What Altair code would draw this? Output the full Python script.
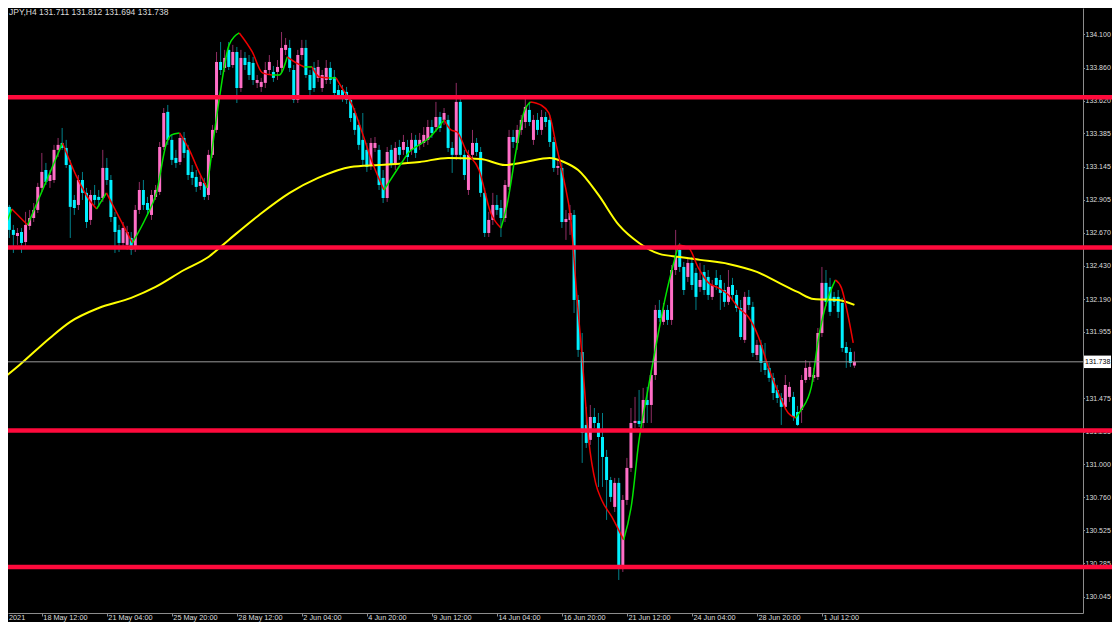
import json
import altair as alt
import pandas as pd

# ---------------- data (EURJPY H4) ----------------
opens = [132.746, 132.819, 132.855, 132.689, 132.645, 132.674, 132.602, 132.718, 132.775, 132.833,
         132.992, 133.121, 133.042, 133.049, 133.266, 133.316, 133.280, 133.157, 132.905, 132.869,
         133.049, 132.956, 132.761, 132.941, 132.927, 132.919, 133.136, 133.049, 132.782, 132.689,
         132.595, 132.581, 132.631, 132.559, 132.833, 132.977, 132.883, 132.797, 132.927, 132.963,
         133.287, 133.540, 133.338, 133.208, 133.179, 133.352, 133.266, 133.107, 133.071, 133.006,
         133.028, 132.941, 133.230, 133.410, 133.900, 133.857, 133.987, 133.878, 133.972, 133.712,
         133.929, 133.900, 133.893, 133.749, 133.720, 133.749, 133.842, 133.828, 133.828, 133.857,
         133.987, 134.001, 133.842, 133.626, 133.950, 134.001, 133.806, 133.857, 133.785, 133.712,
         133.770, 133.857, 133.792, 133.698, 133.698, 133.684, 133.626, 133.532, 133.446, 133.338,
         133.266, 133.157, 133.280, 133.266, 133.064, 132.919, 133.266, 133.157, 133.287, 133.266,
         133.287, 133.266, 133.338, 133.302, 133.316, 133.338, 133.431, 133.431, 133.503, 133.482,
         133.482, 133.280, 133.230, 133.612, 133.230, 132.977, 133.230, 133.316, 133.251, 132.956,
         132.667, 132.761, 132.869, 132.847, 132.775, 132.999, 133.359, 133.316, 133.410, 133.467,
         133.554, 133.338, 133.482, 133.410, 133.503, 133.482, 133.323, 133.136, 133.136, 132.746,
         132.761, 132.797, 132.184, 131.809, 131.283, 131.175, 131.340, 131.297, 131.196, 131.052,
         130.886, 130.692, 130.865, 130.273, 130.742, 130.973, 131.297, 131.312, 131.297, 131.463,
         131.427, 131.643, 132.112, 132.026, 132.112, 132.040, 132.400, 132.545, 132.422, 132.350,
         132.451, 132.379, 132.278, 132.386, 132.350, 132.206, 132.343, 132.328, 132.256, 132.170,
         132.292, 132.220, 132.126, 131.896, 132.206, 132.134, 131.787, 131.860, 131.730, 131.694,
         131.622, 131.535, 131.477, 131.413, 131.485, 131.485, 131.376, 131.391, 131.607, 131.629,
         131.622, 131.629, 131.946, 132.307, 132.278, 132.206, 132.206, 132.162, 131.845, 131.809,
         131.711]
highs = [132.905, 132.941, 132.869, 132.725, 132.703, 132.703, 132.819, 132.833, 132.883, 133.028,
         133.244, 133.172, 133.121, 133.302, 133.352, 133.424, 133.338, 133.194, 132.941, 133.085,
         133.107, 132.992, 132.977, 133.013, 132.977, 133.266, 133.208, 133.085, 132.819, 132.725,
         132.746, 132.718, 132.674, 132.869, 133.035, 133.049, 132.927, 132.977, 133.013, 133.323,
         133.568, 133.590, 133.374, 133.266, 133.388, 133.395, 133.302, 133.157, 133.121, 133.078,
         133.064, 133.266, 133.446, 133.972, 134.044, 133.987, 134.044, 134.023, 134.008, 133.987,
         133.972, 133.950, 133.936, 133.806, 133.785, 133.900, 133.950, 133.871, 133.914, 134.116,
         134.073, 134.059, 133.878, 133.987, 134.059, 134.059, 133.842, 133.900, 133.914, 133.842,
         133.914, 133.900, 133.842, 133.734, 133.734, 133.720, 133.662, 133.568, 133.482, 133.532,
         133.316, 133.352, 133.359, 133.302, 133.121, 133.287, 133.302, 133.323, 133.338, 133.374,
         133.338, 133.388, 133.374, 133.388, 133.431, 133.482, 133.482, 133.612, 133.540, 133.568,
         133.518, 133.323, 133.749, 133.640, 133.266, 133.266, 133.410, 133.352, 133.287, 132.992,
         132.819, 132.956, 132.941, 132.905, 133.049, 133.410, 133.410, 133.446, 133.518, 133.662,
         133.612, 133.518, 133.532, 133.554, 133.540, 133.518, 133.359, 133.194, 133.172, 132.833,
         132.869, 132.833, 132.220, 131.946, 131.413, 131.427, 131.405, 131.369, 131.369, 131.103,
         130.908, 130.901, 130.901, 130.778, 131.045, 131.405, 131.485, 131.535, 131.550, 131.557,
         131.679, 132.148, 132.184, 132.162, 132.148, 132.436, 132.689, 132.595, 132.458, 132.487,
         132.494, 132.415, 132.451, 132.436, 132.400, 132.328, 132.400, 132.364, 132.307, 132.400,
         132.343, 132.256, 132.184, 132.242, 132.256, 132.170, 131.896, 131.896, 131.874, 131.730,
         131.658, 131.571, 131.513, 131.643, 131.593, 131.521, 131.420, 131.643, 131.751, 131.737,
         131.694, 131.982, 132.422, 132.400, 132.343, 132.242, 132.256, 132.199, 131.881, 131.838,
         131.812]
lows = [132.703, 132.804, 132.631, 132.523, 132.581, 132.523, 132.566, 132.689, 132.746, 132.811,
        132.963, 133.013, 132.992, 133.028, 133.215, 133.266, 133.136, 132.631, 132.797, 132.833,
        132.905, 132.703, 132.725, 132.869, 132.855, 132.891, 133.013, 132.746, 132.523, 132.530,
        132.566, 132.545, 132.509, 132.530, 132.804, 132.833, 132.797, 132.761, 132.905, 132.941,
        133.266, 133.302, 133.157, 133.136, 133.157, 133.208, 133.049, 133.013, 132.963, 132.977,
        132.905, 132.905, 133.208, 133.388, 133.806, 133.828, 133.842, 133.857, 133.604, 133.684,
        133.842, 133.770, 133.734, 133.712, 133.684, 133.712, 133.806, 133.756, 133.770, 133.828,
        133.950, 133.828, 133.604, 133.604, 133.914, 133.785, 133.662, 133.684, 133.756, 133.684,
        133.741, 133.741, 133.648, 133.640, 133.612, 133.597, 133.467, 133.374, 133.266, 133.157,
        133.107, 133.121, 133.251, 132.977, 132.883, 132.891, 133.136, 133.121, 133.194, 133.230,
        133.179, 133.230, 133.208, 133.266, 133.287, 133.302, 133.352, 133.395, 133.395, 133.446,
        133.251, 133.100, 133.194, 133.194, 133.049, 132.941, 133.194, 133.222, 132.927, 132.638,
        132.638, 132.725, 132.797, 132.638, 132.746, 132.977, 133.280, 133.266, 133.374, 133.424,
        133.438, 133.302, 133.374, 133.374, 133.431, 133.287, 133.107, 133.085, 132.703, 132.617,
        132.653, 132.090, 131.773, 131.009, 131.117, 131.139, 131.261, 130.836, 130.836, 130.598,
        130.728, 130.655, 130.165, 130.223, 130.706, 130.944, 131.261, 131.268, 131.261, 131.297,
        131.297, 131.607, 132.026, 132.004, 132.004, 132.004, 132.364, 132.386, 132.220, 132.314,
        132.256, 132.112, 132.242, 132.220, 132.184, 132.184, 132.256, 132.112, 132.134, 132.148,
        132.184, 132.098, 131.896, 131.874, 132.112, 131.773, 131.751, 131.665, 131.643, 131.593,
        131.463, 131.441, 131.283, 131.391, 131.449, 131.312, 131.276, 131.297, 131.586, 131.607,
        131.593, 131.607, 131.917, 132.141, 132.069, 132.141, 132.054, 131.809, 131.694, 131.701,
        131.694]
closes = [132.819, 132.869, 132.689, 132.653, 132.667, 132.595, 132.725, 132.775, 132.833, 132.999,
          133.107, 133.035, 133.085, 133.266, 133.302, 133.280, 133.157, 132.855, 132.847, 133.049,
          132.956, 132.746, 132.941, 132.905, 132.905, 133.136, 133.049, 132.782, 132.674, 132.595,
          132.703, 132.674, 132.545, 132.833, 132.977, 132.869, 132.833, 132.941, 132.977, 133.287,
          133.532, 133.338, 133.194, 133.172, 133.352, 133.244, 133.085, 133.064, 132.999, 133.035,
          132.927, 133.230, 133.410, 133.900, 133.842, 133.929, 133.864, 133.972, 133.712, 133.929,
          133.878, 133.806, 133.770, 133.770, 133.756, 133.842, 133.900, 133.785, 133.864, 134.001,
          134.023, 133.857, 133.626, 133.950, 134.001, 133.806, 133.698, 133.712, 133.864, 133.806,
          133.857, 133.770, 133.676, 133.662, 133.648, 133.626, 133.496, 133.410, 133.302, 133.194,
          133.143, 133.316, 133.316, 133.013, 132.919, 133.251, 133.157, 133.280, 133.230, 133.323,
          133.215, 133.338, 133.244, 133.338, 133.374, 133.431, 133.388, 133.503, 133.424, 133.532,
          133.280, 133.230, 133.612, 133.230, 133.085, 133.230, 133.316, 133.251, 132.956, 132.667,
          132.761, 132.869, 132.833, 132.775, 133.013, 133.359, 133.323, 133.410, 133.482, 133.576,
          133.467, 133.482, 133.410, 133.503, 133.467, 133.323, 133.136, 133.150, 132.746, 132.768,
          132.811, 132.184, 131.824, 131.225, 131.153, 131.340, 131.297, 131.196, 131.052, 130.886,
          130.764, 130.865, 130.273, 130.742, 130.973, 131.297, 131.312, 131.290, 131.463, 131.427,
          131.643, 132.112, 132.054, 132.112, 132.040, 132.400, 132.494, 132.422, 132.256, 132.451,
          132.292, 132.206, 132.328, 132.256, 132.220, 132.292, 132.292, 132.235, 132.170, 132.278,
          132.220, 132.126, 131.917, 132.206, 132.148, 131.802, 131.860, 131.730, 131.679, 131.622,
          131.513, 131.477, 131.413, 131.571, 131.557, 131.340, 131.283, 131.607, 131.694, 131.701,
          131.643, 131.946, 132.307, 132.170, 132.098, 132.170, 132.098, 131.838, 131.802, 131.730,
          131.738]

# slow moving average (yellow), sampled along the drawn line: bar index -> price
ma_idx = [0, 4.5, 12, 17, 24, 32, 38, 45, 51, 56, 63.5, 71, 78, 86, 93, 103, 110, 118, 124,
          129, 135, 138.5, 142, 147, 152, 157, 162, 167, 172, 179, 186, 191, 196, 200, 206, 210]
ma_val = [131.607, 131.715, 131.910, 132.026, 132.126, 132.199, 132.278, 132.400, 132.494,
          132.617, 132.797, 132.956, 133.064, 133.143, 133.157, 133.179, 133.208, 133.201,
          133.157, 133.179, 133.208, 133.179, 133.121, 132.941, 132.725, 132.595, 132.516,
          132.494, 132.473, 132.444, 132.386, 132.314, 132.242, 132.191, 132.184, 132.148]

# fast smoothed average (green rising / red falling): bar index -> price
hma_idx = [0, 2.6, 6.5, 15.1, 18.6, 21.7, 23.5, 25.9, 32.3, 35.7, 38.2, 40.7, 41.9, 43.9, 46.3,
           48.8, 50.7, 53.7, 56.1, 58.6, 61.8, 64.3, 66.7, 68.4, 70.4, 72.6, 74.6, 76.5, 78.3,
           80.7, 82.4, 83.9, 86.4, 88.8, 91.3, 94.2, 98.7, 100.4, 102.1, 105.3, 109.0, 110.7,
           112.2, 114.6, 117.6, 120.5, 123.0, 124.4, 126.9, 128.6, 130.3, 132.8, 134.8, 136.7,
           138.5, 140.2, 141.7, 142.9, 144.6, 146.3, 147.8, 150.3, 153.2, 155.2, 156.9, 159.3,
           161.1, 163.5, 166.7, 169.2, 171.6, 174.1, 176.5, 179.0, 181.5, 183.9, 186.4, 188.8,
           191.3, 193.7, 195.5, 196.9, 199.4, 201.1, 203.1, 205.3, 206.8, 208.5, 209.7]
hma_val = [132.638, 132.840, 132.725, 133.316, 133.071, 132.905, 132.840, 132.956, 132.595,
           132.782, 132.956, 133.316, 133.374, 133.388, 133.266, 133.100, 132.991, 133.640,
           134.023, 134.109, 133.972, 133.821, 133.806, 133.806, 133.936, 133.893, 133.864,
           133.864, 133.792, 133.785, 133.785, 133.712, 133.590, 133.395, 133.179, 132.977,
           133.179, 133.251, 133.287, 133.352, 133.482, 133.410, 133.395, 133.251, 133.121,
           132.811, 132.703, 132.855, 133.287, 133.532, 133.612, 133.590, 133.532, 133.287,
           133.049, 132.761, 132.206, 131.802, 131.175, 130.865, 130.742, 130.620, 130.454,
           130.720, 131.153, 131.557, 131.845, 132.206, 132.581, 132.559, 132.415, 132.307,
           132.271, 132.220, 132.126, 132.061, 131.917, 131.701, 131.513, 131.369, 131.333,
           131.391, 131.557, 131.896, 132.162, 132.328, 132.271, 132.061, 131.874]

# horizontal levels and current price
levels = [133.646, 132.562, 131.243, 130.258]
last_price = 131.738

# axis ticks / labels
price_ticks = [134.100, 133.860, 133.620, 133.385, 133.145, 132.905, 132.670, 132.430, 132.190,
               131.955, 131.715, 131.475, 131.235, 131.000, 130.760, 130.525, 130.285, 130.045]
time_ticks = [10, 26, 42, 58, 74, 90, 106, 122, 138, 154, 170, 186, 202]
time_labels = ["18 May 12:00", "21 May 04:00", "25 May 20:00", "28 May 12:00", "2 Jun 04:00",
               "4 Jun 20:00", "9 Jun 12:00", "14 Jun 04:00", "16 Jun 20:00", "21 Jun 12:00",
               "24 Jun 04:00", "28 Jun 20:00", "1 Jul 12:00"]
first_label = "2021"
title_text = "JPY,H4  131.711 131.812 131.694 131.738"

# ---------------- styling ----------------
BG = "#000000"
FRAME = "#8c8c8c"
TXT = "#dcdcdc"
FONT = "Liberation Sans"
BULL_BODY, BEAR_BODY = "#ff6ec7", "#00f0ff"
BULL_WICK, BEAR_WICK = "#8f2d63", "#00808a"

bars = pd.DataFrame({"i": list(range(len(closes))), "open": opens, "high": highs,
                     "low": lows, "close": closes})
up = bars["close"] >= bars["open"]
bars["body_col"] = [BULL_BODY if u else BEAR_BODY for u in up]
bars["wick_col"] = [BULL_WICK if u else BEAR_WICK for u in up]

ma = pd.DataFrame({"i": ma_idx, "v": ma_val})

# split fast average into rising / falling runs
rows, run, prev = [], 0, None
for k in range(len(hma_idx) - 1):
    d = "up" if hma_val[k + 1] >= hma_val[k] else "down"
    if d != prev:
        run += 1
        rows.append({"i": hma_idx[k], "v": hma_val[k], "run": run, "dir": d, "o": k})
    rows.append({"i": hma_idx[k + 1], "v": hma_val[k + 1], "run": run, "dir": d, "o": k + 1})
    prev = d
hma = pd.DataFrame(rows)

# plot area = 1075 x 605 px starting at the page's 8px margin; whole svg 1104 x 614
X_DOM = [1.674, 266.26]
Y_DOM = [129.927, 134.289]
xs = alt.Scale(domain=X_DOM, nice=False, zero=False)
ys = alt.Scale(domain=Y_DOM, nice=False, zero=False)

label_expr = f"{json.dumps(time_labels)}[indexof({json.dumps(time_ticks)}, datum.value)]"
xaxis = alt.Axis(values=time_ticks, labelExpr=label_expr, orient="bottom", domain=True,
                 domainColor=FRAME, domainWidth=1, ticks=True, tickSize=3, tickColor=FRAME,
                 labelColor=TXT, labelFont=FONT, labelFontSize=7.3, labelAlign="left",
                 labelBaseline="middle", labelPadding=1.5, labelOffset=1, grid=False,
                 title=None, labelOverlap=False, labelFlush=False)
yaxis = alt.Axis(orient="right", values=price_ticks, format=".3f", domain=True,
                 domainColor=FRAME, domainWidth=1, ticks=True, tickSize=1.5, tickColor=FRAME,
                 labelColor=TXT, labelFont=FONT, labelFontSize=7.0, labelAlign="left",
                 labelBaseline="middle", labelPadding=0.5, grid=False, title=None,
                 labelOverlap=False, labelFlush=False)


def X(field):
    return alt.X(field, scale=xs, axis=xaxis)


def Y(field):
    return alt.Y(field, scale=ys, axis=yaxis)


base = alt.Chart(bars)
wicks = base.mark_rule(strokeWidth=1, clip=True).encode(
    x=X("i:Q"), y=Y("low:Q"), y2="high:Q",
    color=alt.Color("wick_col:N", scale=None),
)
bodies = base.mark_rule(strokeWidth=3, clip=True).encode(
    x=X("i:Q"), y=Y("open:Q"), y2="close:Q",
    color=alt.Color("body_col:N", scale=None),
)
ma_line = alt.Chart(ma).mark_line(color="#ffff00", strokeWidth=2, interpolate="monotone",
                                  clip=True).encode(x=X("i:Q"), y=Y("v:Q"))
hma_line = alt.Chart(hma).mark_line(strokeWidth=1.5, interpolate="monotone", clip=True).encode(
    x=X("i:Q"), y=Y("v:Q"), detail="run:N", order="o:Q",
    color=alt.Color("dir:N", scale=alt.Scale(domain=["up", "down"], range=["#00e400", "#f00000"]),
                    legend=None))

price_df = pd.DataFrame({"p": [last_price], "hi": [last_price + 0.045], "lo": [last_price - 0.045],
                         "t": [f"{last_price:.3f}"]})
price_line = alt.Chart(price_df).mark_rule(color="#9a9a9a", strokeWidth=1).encode(
    y=Y("p:Q"), x=alt.value(0), x2=alt.value(1075))
price_box = alt.Chart(price_df).mark_rect(color="#ffffff").encode(
    y=Y("hi:Q"), y2="lo:Q", x=alt.value(1076), x2=alt.value(1103))
price_txt = alt.Chart(price_df).mark_text(align="left", baseline="middle", color="#000000",
                                          font=FONT, fontSize=7.0, dx=1).encode(
    y=Y("p:Q"), x=alt.value(1076), text="t:N")

lv = pd.DataFrame({"lvl": levels})
red_lines = alt.Chart(lv).mark_rule(color="#ff0a3c", strokeWidth=4.5).encode(
    y=Y("lvl:Q"), x=alt.value(0), x2=alt.value(1104))

first_df = pd.DataFrame({"t": [first_label]})
first_txt = alt.Chart(first_df).mark_text(align="left", baseline="middle", color=TXT, font=FONT,
                                          fontSize=7.3).encode(
    x=alt.value(1), y=alt.value(609.5), text="t:N")

title_df = pd.DataFrame({"t": [title_text]})
title = alt.Chart(title_df).mark_text(align="left", baseline="top", color=TXT, font=FONT,
                                      fontSize=8.5).encode(
    x=alt.value(1), y=alt.value(0), text="t:N")

chart = alt.layer(
    wicks, bodies, ma_line, hma_line, price_line, price_box, price_txt, red_lines, first_txt, title
).properties(
    width=1075, height=605,
    padding={"left": 0, "top": 0, "right": 29, "bottom": 9},
    autosize=alt.AutoSizeParams(type="none"),
    background=BG,
).configure_view(strokeWidth=0)

chart.save("out.html", embed_options={"renderer": "svg", "actions": False})
